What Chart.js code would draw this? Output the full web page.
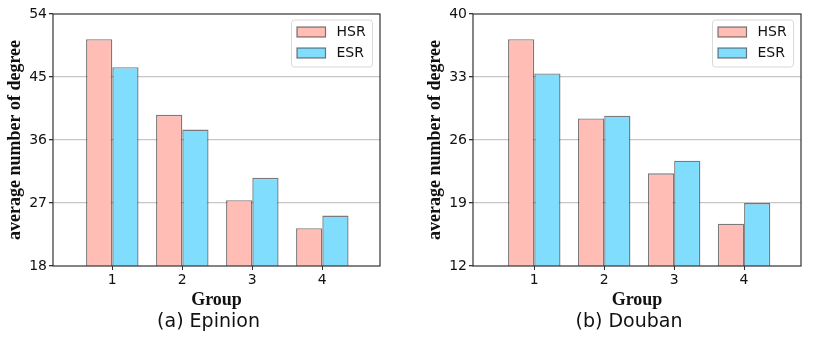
<!DOCTYPE html>
<html>
<head>
<meta charset="utf-8">
<script src="https://cdn.jsdelivr.net/npm/chart.js@4.4.1/dist/chart.umd.min.js"></script>
<style>
  html, body { margin: 0; padding: 0; background: #fff; }
  #wrap { position: relative; width: 814px; height: 340px; overflow: hidden; }
  .panel { position: absolute; top: 0; height: 340px; }
</style>
</head>
<body>
<div id="wrap">
  <div class="panel" style="left:0;width:407px"><canvas id="epinion" width="407" height="340"></canvas></div>
  <div class="panel" style="left:420px;width:394px"><canvas id="douban" width="394" height="340"></canvas></div>
</div>
<script>
// --- Data ---
const groups = [1, 2, 3, 4];
const seriesNames = ["HSR", "ESR"];
const epinionHSR = [50.4, 39.6, 27.4, 23.4];
const epinionESR = [46.4, 37.5, 30.6, 25.2];
const doubanHSR = [37.2, 28.4, 22.3, 16.7];
const doubanESR = [33.4, 28.7, 23.7, 19.0];
const epinionTicks = [18, 27, 36, 45, 54];
const doubanTicks = [12, 19, 26, 33, 40];

const fills = ["#ffbdb6", "#80ddfd"];
const edge = "rgba(50, 50, 50, 0.65)";

// frame around the plot, legend box and caption under each panel
const framePlugin = {
  id: "frame",
  afterDraw(chart, args, opts) {
    const { ctx, chartArea: a } = chart;
    ctx.save();
    ctx.strokeStyle = "#333";
    ctx.lineWidth = 1.2;
    ctx.strokeRect(a.left, a.top, a.right - a.left, a.bottom - a.top);

    // legend
    const bw = 81, bh = 47;
    const bx = a.right - 7.5 - bw, by = a.top + 6;
    ctx.beginPath();
    ctx.roundRect(bx, by, bw, bh, 3);
    ctx.fillStyle = "rgba(255,255,255,0.85)";
    ctx.fill();
    ctx.strokeStyle = "#d9d9d9";
    ctx.lineWidth = 1;
    ctx.stroke();
    chart.data.datasets.forEach((ds, i) => {
      const sy = by + 7 + i * 21;
      ctx.fillStyle = ds.backgroundColor;
      ctx.fillRect(bx + 5.5, sy, 28.5, 10);
      ctx.strokeStyle = edge;
      ctx.lineWidth = 1.2;
      ctx.strokeRect(bx + 5.5, sy, 28.5, 10);
      ctx.fillStyle = "#111";
      ctx.font = "14px 'DejaVu Sans'";
      ctx.textAlign = "left";
      ctx.textBaseline = "middle";
      ctx.fillText(ds.label, bx + 45, sy + 5.5);
    });

    // caption
    ctx.fillStyle = "#111";
    ctx.font = "19px 'DejaVu Sans'";
    ctx.textAlign = "center";
    ctx.textBaseline = "middle";
    ctx.fillText(opts.caption, (a.left + a.right) / 2 - 8, 322);
    ctx.restore();
  },
};

function makeChart(id, hsr, esr, ticks, xMin, xMax, padRight, caption) {
  const last = ticks.length - 1;
  return new Chart(document.getElementById(id), {
    type: "bar",
    data: {
      datasets: [hsr, esr].map((vals, i) => ({
        label: seriesNames[i],
        data: groups.map((g, j) => ({ x: g, y: vals[j] })),
        backgroundColor: fills[i],
        borderColor: edge,
        borderWidth: 1.4,
        categoryPercentage: 0.75,
        barPercentage: 1.0,
      })),
    },
    options: {
      responsive: false,
      animation: false,
      devicePixelRatio: 1,
      layout: { padding: { left: 0, top: 14, right: padRight, bottom: 28 } },
      plugins: {
        legend: { display: false },
        tooltip: { enabled: false },
        frame: { caption: caption },
      },
      scales: {
        x: {
          type: "linear",
          min: xMin,
          max: xMax,
          offset: false,
          afterBuildTicks: (s) => { s.ticks = groups.map((v) => ({ value: v })); },
          afterFit: (s) => { s.height = 46; },
          border: { display: false },
          grid: { offset: false, drawOnChartArea: false, tickColor: "#333", tickLength: 4 },
          ticks: { padding: 2, color: "#111", font: { family: "DejaVu Sans", size: 14 } },
          title: {
            display: true,
            text: "Group",
            color: "#111",
            font: { family: "Liberation Serif", size: 18, weight: "bold" },
            padding: { top: 0, bottom: 1 },
          },
        },
        y: {
          min: ticks[0],
          max: ticks[last],
          z: 1,
          afterBuildTicks: (s) => { s.ticks = ticks.map((v) => ({ value: v })); },
          afterFit: (s) => { s.width = 53; },
          border: { display: false },
          grid: {
            color: (c) => (c.index === 0 || c.index === last ? "rgba(0,0,0,0)" : "#c6c6c6"),
            lineWidth: 1.3,
            tickColor: "#333",
            tickLength: 4,
          },
          ticks: { padding: 2, color: "#111", font: { family: "DejaVu Sans", size: 14 } },
          title: {
            display: true,
            text: "average number of degree",
            color: "#111",
            font: { family: "Liberation Serif", size: 18, weight: "bold" },
            padding: { top: 5, bottom: 0 },
          },
        },
      },
    },
    plugins: [framePlugin],
  });
}

makeChart("epinion", epinionHSR, epinionESR, epinionTicks, 0.153, 4.824, 27, "(a) Epinion");
makeChart("douban", doubanHSR, doubanESR, doubanTicks, 0.124, 4.814, 13, "(b) Douban");
</script>
</body>
</html>
